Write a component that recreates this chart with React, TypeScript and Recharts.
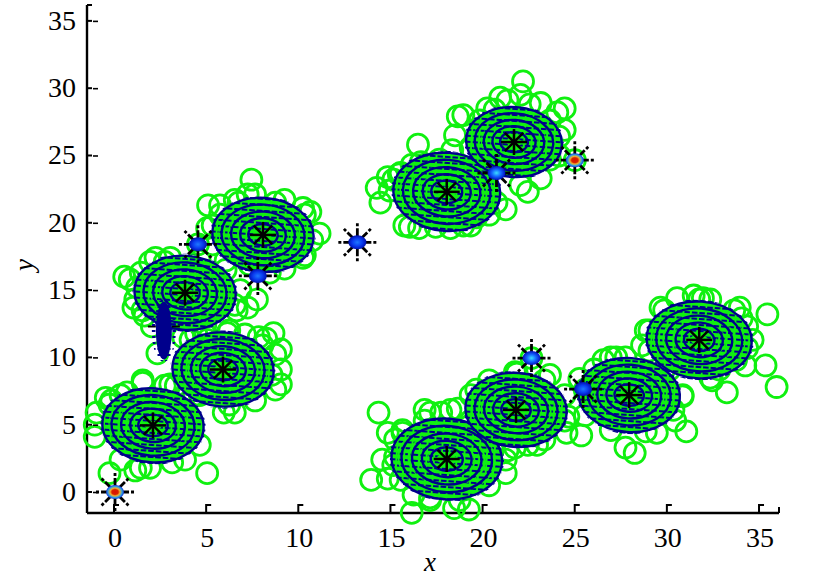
import React from 'react';
import { ScatterChart, Scatter, XAxis, YAxis } from 'recharts';

const xTicks = [0, 5, 10, 15, 20, 25, 30, 35, 36.03];
const yTicks = [0, 5, 10, 15, 20, 25, 30, 35, 36.18];
const xDomain = [-1.52, 36.03];
const yDomain = [-1.56, 36.18];

const greenUpper = [
  [22.14,30.5],[16.44,25.8],[18.6,27.9],[18.9,28.0],[18.45,26.5],[20.2,28.5],[21.3,29.1],[22.0,29.5],[23.1,28.9],[24.4,28.5],
  [24.0,28.2],[24.1,26.4],[14.2,22.6],[14.4,21.5],[15.1,23.2],[16.0,19.7],[17.4,19.7],[18.9,19.8],[19.6,20.4],[22.4,22.3],
  [20.7,21.5],[23.6,24.7],[17.6,24.7],[18.3,25.4],[15.5,23.7],[14.8,23.4],[19.3,25.6],[20.9,29.3],[24.95,24.65],[16.6,24.5],
  [14.9,22.4],[15.4,23.6],[16.1,24.3],[15.7,19.8],[16.5,19.6],[18.2,19.6],[19.3,19.8],[20.3,20.6],[21.2,21.0],
  [19.8,27.6],[20.6,28.4],[22.5,28.8],[23.6,27.6],[24.4,26.9],[24.1,25.0],[23.1,23.3],[22.0,22.8],
];
const greenLower = [
  [14.3,5.9],[14.8,4.4],[14.5,2.4],[13.9,0.9],[16.8,6.1],[17.1,5.9],[17.7,5.9],[18.6,6.2],[18.2,6.1],[21.2,1.4],
  [16.1,-1.55],[18.4,-1.2],[19.2,-1.3],[14.8,1.0],[15.6,4.4],[19.6,7.6],[22.9,3.5],[21.3,3.1],[22.4,3.5],[16.2,-0.2],
  [17.1,-0.4],[15.2,2.6],[20.5,3.1],[22.6,9.95],[21.8,8.8],[23.6,8.7],[25.2,8.4],[24.6,5.6],[24.5,4.4],[25.3,4.2],
  [15.2,3.9],[15.6,4.6],[16.8,5.3],[19.3,5.3],[20.6,4.6],[21.2,2.4],[20.3,0.5],[18.7,-0.6],[17.1,-0.6],[15.5,0.9],[15.1,2.0],
  [19.3,7.2],[20.3,8.3],[21.7,8.9],[23.3,8.3],[24.4,7.2],[24.4,5.3],[23.3,3.9],[21.7,3.3],[20.3,3.9],
];
const greenRight = [
  [29.6,13.7],[30.5,14.4],[31.4,14.6],[31.9,14.4],[32.3,14.3],[33.9,13.7],[35.4,13.2],[34.0,12.9],[34.3,12.3],[28.8,12.0],
  [28.6,10.9],[35.3,9.4],[35.9,7.8],[33.2,7.4],[32.8,9.1],[32.4,8.3],[34.3,10.7],[33.7,9.8],[26.5,9.8],[27.2,10.0],
  [26.9,10.0],[31.0,4.5],[29.4,4.4],[27.7,3.3],[28.2,2.9],[30.8,7.1],[30.3,6.1],
  [25.5,7.6],[26.0,9.1],[27.7,10.0],[29.8,9.1],[30.8,7.2],[30.4,5.3],[28.8,4.5],[26.9,4.6],[25.5,5.7],
  [29.0,12.0],[29.8,13.5],[31.7,14.3],[33.6,13.5],[34.6,11.3],[34.2,9.4],[32.3,8.5],[30.1,9.1],[29.0,10.5],
];
const greenLeft = [
  [7.4,23.2],[5.05,21.3],[7.2,22.1],[6.7,21.5],[10.2,21.1],[10.6,20.8],[11.1,19.2],[10.2,17.4],[8.7,21.5],[5.7,20.6],
  [5.0,19.6],[0.5,16.0],[1.4,16.3],[2.2,17.4],[3.0,17.4],[2.7,17.1],[8.4,16.3],[1.2,15.2],[1.0,13.7],[1.5,13.5],
  [2.0,12.3],[7.7,14.3],[7.2,13.7],[6.6,13.5],[6.2,12.0],[3.7,11.5],[4.4,11.8],[7.8,11.5],[8.6,11.8],[8.2,11.4],
  [5.0,11.3],[6.1,11.8],[2.3,10.3],[9.0,10.6],[1.5,8.3],[9.0,8.0],[8.5,8.7],[6.5,5.9],[3.0,8.0],[3.8,7.2],
  [1.5,8.1],[-0.2,6.8],[-1.0,5.9],[-1.1,4.1],[-0.5,7.0],[-0.3,1.4],[1.1,1.6],[1.4,1.8],[3.1,2.2],[5.0,1.4],
  [4.6,3.5],[5.9,5.9],[4.5,18.4],
  [-0.3,6.5],[-1.1,5.0],[0.3,7.2],[0.65,7.4],[2.7,7.9],[4.3,7.2],[0.3,2.4],[1.9,1.8],[3.8,2.4],
  [4.1,11.3],[4.9,11.7],[7.05,11.7],[8.0,10.9],[8.7,10.2],[9.0,9.1],[8.7,7.6],[7.6,6.8],[6.2,6.5],[4.6,7.2],[3.3,7.9],
  [0.8,15.8],[1.1,14.3],[1.6,13.1],[1.9,17.1],[4.6,17.2],[6.0,16.5],[6.8,15.0],[6.5,13.9],[4.9,12.4],
  [5.3,19.8],[5.7,21.3],[6.5,21.7],[7.6,22.1],[9.2,21.7],[10.3,20.6],[10.7,18.7],[10.3,17.6],[9.2,16.6],[7.3,16.9],[6.0,17.2],[5.3,18.4],
];

const clusterX = [2.06, 5.86, 3.8, 8.03, 18.0, 21.65, 18.0, 21.76, 27.9, 31.7];
const clusterY = [4.95, 9.1, 14.8, 19.1, 22.3, 26.0, 2.45, 6.1, 7.2, 11.3];
const clusterR = [2.75, 2.75, 2.75, 2.75, 2.9, 2.6, 3.0, 2.75, 2.75, 2.85];
const ringFractions = [1, 0.82, 0.63, 0.45, 0.29];

const nodeX = [0, 4.5, 7.75, 13.15, 22.6, 24.95, 25.4, 20.7];
const nodeY = [0, 18.4, 16.05, 18.55, 9.95, 24.65, 7.65, 23.7];
const nodeKind = ['red', 'blue', 'blue', 'blue', 'light', 'red', 'blue', 'light'];

const tallBlob = [{ x: 2.65, y: 12.0 }];

const toPts = (a: number[][]) => a.map(([x, y]) => ({ x, y }));
const clusters = clusterX.map((x, i) => ({ x, y: clusterY[i] }));
const rings = clusterX.flatMap((x, i) =>
  ringFractions.map((f, level) => ({ x, y: clusterY[i], r: clusterR[i] * f, level })),
);
const nodes = nodeX.map((x, i) => ({ x, y: nodeY[i], kind: nodeKind[i] }));

const W = 829, H = 578;
const mTop = 5, mRight = 50, mBottom = 25, mLeft = 27, xH = 40, yW = 60;
const pxX = (W - mLeft - yW - mRight) / (xDomain[1] - xDomain[0]);
const pxY = (H - mTop - mBottom - xH) / (yDomain[1] - yDomain[0]);

const BLUE = '#00008c';
const GREEN = '#10f010';
const FONT = '"Liberation Serif", serif';

const GreenCircle = (p: any) => (
  <circle cx={p.cx} cy={p.cy} r={10.5} fill="none" stroke={GREEN} strokeWidth={2.8} />
);

const Ring = (p: any) => {
  const { cx, cy, payload } = p;
  const rx = payload.r * pxX, ry = payload.r * pxY;
  const t = `rotate(4 ${cx} ${cy})`;
  return (
    <g>
      {payload.level === 0 && <ellipse cx={cx} cy={cy} rx={rx} ry={ry} transform={t} fill={GREEN} />}
      <ellipse cx={cx} cy={cy} rx={rx} ry={ry} transform={t} fill="none" stroke={BLUE} strokeWidth={2.4} />
      <ellipse cx={cx} cy={cy} rx={rx - 2} ry={ry - 2} transform={t} fill="none" stroke="url(#hatch)" strokeWidth={8} />
    </g>
  );
};

const spokes = [0, 45, 90, 135];
const Star = (p: any) => (
  <g stroke="#000" strokeWidth={2.5}>
    {spokes.map((a) => (
      <line key={a} x1={p.cx - 13} y1={p.cy} x2={p.cx + 13} y2={p.cy} transform={`rotate(${a} ${p.cx} ${p.cy})`} />
    ))}
  </g>
);

const Node = (p: any) => {
  const { cx, cy, payload } = p;
  return (
    <g>
      <g stroke="#000" strokeWidth={2.8} strokeDasharray="14 2 4 30">
        {[0, 45, 90, 135, 180, 225, 270, 315].map((a) => (
          <line key={a} x1={cx} y1={cy} x2={cx + 19} y2={cy} transform={`rotate(${a} ${cx} ${cy})`} />
        ))}
      </g>
      <ellipse cx={cx} cy={cy} rx={9} ry={7} fill={`url(#node-${payload.kind})`} />
    </g>
  );
};

const Tall = (p: any) => {
  const { cx, cy } = p;
  return (
    <g>
      <line x1={cx - 16} y1={cy - 4} x2={cx + 16} y2={cy - 4} stroke="#000" strokeWidth={2} strokeDasharray="8 16 8" />
      <ellipse cx={cx} cy={cy} rx={8} ry={29} fill={BLUE} />
      <ellipse cx={cx} cy={cy} rx={10} ry={29} fill="none" stroke="url(#hatch)" strokeWidth={4} />
    </g>
  );
};

const XTick = (p: any) => {
  const { x, y, payload } = p;
  const isEnd = payload.value > 36;
  return (
    <g>
      <path d={isEnd ? `M${x} ${y} V${y - 6}` : `M${x - 1} ${y} V${y - 8} H${x + 4}`} fill="none" stroke="#000" strokeWidth={2} />
      {!isEnd && (
        <text x={x} y={y + 34} textAnchor="middle" fontFamily={FONT} fontSize={28} fill="#000">{payload.value}</text>
      )}
    </g>
  );
};

const YTick = (p: any) => {
  const { x, y, payload } = p;
  const isEnd = payload.value > 36;
  return (
    <g>
      <path d={`M${x} ${y} H${x + 5}`} fill="none" stroke="#000" strokeWidth={2} />
      {!isEnd && <path d={`M${x + 6} ${y + 0.5} H${x + 11}`} fill="none" stroke="#000" strokeWidth={1.6} />}
      {!isEnd && (
        <text x={x - 11} y={y + 9} textAnchor="end" fontFamily={FONT} fontSize={28} fill="#000">{payload.value}</text>
      )}
    </g>
  );
};

export default function App() {
  return (
    <div style={{ position: 'absolute', left: 0, top: 0, width: W, height: H, background: '#fff' }}>
      <ScatterChart width={W} height={H} margin={{ top: mTop, right: mRight, bottom: mBottom, left: mLeft }}>
        <defs>
          <pattern id="hatch" patternUnits="userSpaceOnUse" width={7.5} height={6}>
            <rect x={0} y={0} width={5.5} height={2} fill={BLUE} />
          </pattern>
          <radialGradient id="node-blue">
            <stop offset="0%" stopColor="#1e78ff" />
            <stop offset="55%" stopColor="#0a3cf0" />
            <stop offset="100%" stopColor="#0010b0" />
          </radialGradient>
          <radialGradient id="node-light">
            <stop offset="0%" stopColor="#3cdcff" />
            <stop offset="50%" stopColor="#1468ff" />
            <stop offset="100%" stopColor="#0010c0" />
          </radialGradient>
          <radialGradient id="node-red">
            <stop offset="0%" stopColor="#d81000" />
            <stop offset="35%" stopColor="#d82000" />
            <stop offset="55%" stopColor="#f0b030" />
            <stop offset="78%" stopColor="#30a0e0" />
            <stop offset="100%" stopColor="#1030d8" />
          </radialGradient>
        </defs>
        <XAxis
          type="number"
          dataKey="x"
          domain={xDomain}
          ticks={xTicks}
          interval={0}
          height={xH}
          tickSize={0}
          tickMargin={0}
          tickLine={false}
          tick={<XTick />}
          axisLine={{ stroke: '#000', strokeWidth: 2.4 }}
          label={{ value: 'x', position: 'bottom', offset: -1, dx: -3, style: { fontFamily: FONT, fontStyle: 'italic', fontSize: 27, fill: '#000' } }}
        />
        <YAxis
          type="number"
          dataKey="y"
          domain={yDomain}
          ticks={yTicks}
          interval={0}
          width={yW}
          tickSize={0}
          tickMargin={0}
          tickLine={false}
          tick={<YTick />}
          axisLine={{ stroke: '#000', strokeWidth: 2.4 }}
          label={{ value: 'y', angle: -90, position: 'left', offset: 4, style: { fontFamily: FONT, fontStyle: 'italic', fontSize: 27, fill: '#000' } }}
        />
        <Scatter name="upper" data={toPts(greenUpper)} shape={GreenCircle} isAnimationActive={false} />
        <Scatter name="lower" data={toPts(greenLower)} shape={GreenCircle} isAnimationActive={false} />
        <Scatter name="right" data={toPts(greenRight)} shape={GreenCircle} isAnimationActive={false} />
        <Scatter name="left" data={toPts(greenLeft)} shape={GreenCircle} isAnimationActive={false} />
        <Scatter name="contours" data={rings} shape={Ring} isAnimationActive={false} />
        <Scatter name="tall" data={tallBlob} shape={Tall} isAnimationActive={false} />
        <Scatter name="nodes" data={nodes} shape={Node} isAnimationActive={false} />
        <Scatter name="centres" data={clusters} shape={Star} isAnimationActive={false} />
      </ScatterChart>
    </div>
  );
}
